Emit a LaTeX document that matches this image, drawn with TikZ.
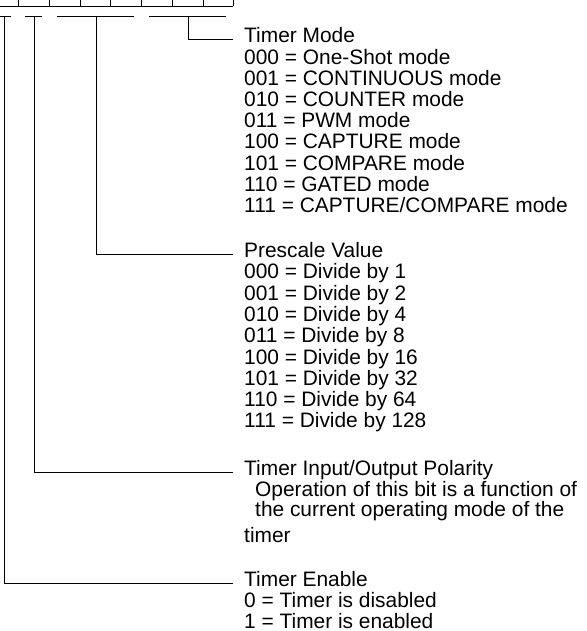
\documentclass[tikz,border=0pt]{standalone}
\usepackage{fontspec}
\setmainfont{Liberation Sans}
\usetikzlibrary{calc}
\begin{document}
\begin{tikzpicture}[x=1pt,y=-1pt,
  conn/.style={line width=0.8pt,line cap=rect},
  lbl/.style={anchor=base west,inner sep=0pt,font=\fontsize{20.9}{21}\selectfont}]
\useasboundingbox (0,0) rectangle (586,631);
% register cells (bottom part visible)
\draw[conn] (-2,6) -- (233,6);
\foreach \x in {18,49,80,110,141,172,203,233} \draw[conn] (\x,-2) -- (\x,6);
% field underlines
\draw[conn] (-2,16) -- (11,16);
\draw[conn] (25,16) -- (42,16);
\draw[conn] (57,16) -- (134,16);
\draw[conn] (149,16) -- (226,16);
\coordinate (f7) at (4,16);
\coordinate (f6) at (34,16);
\coordinate (f53) at (96,16);
\coordinate (f20) at (188,16);
% Timer Mode
\node[lbl] (tm) at (244,43) {Timer Mode};
\foreach \t [count=\i] in {{000 = One-Shot mode},{001 = CONTINUOUS mode},{010 = COUNTER mode},{011 = PWM mode},{100 = CAPTURE mode},{101 = COMPARE mode},{110 = GATED mode},{111 = CAPTURE/COMPARE mode}}
  \node[lbl] (tm\i) at (244,43+21.2*\i) {\t};
% Prescale
\node[lbl] (ps) at (244,257.5) {Prescale Value};
\foreach \t [count=\i] in {{000 = Divide by 1},{001 = Divide by 2},{010 = Divide by 4},{011 = Divide by 8},{100 = Divide by 16},{101 = Divide by 32},{110 = Divide by 64},{111 = Divide by 128}}
  \node[lbl] (ps\i) at (244,257.5+21.3*\i) {\t};
% Polarity
\node[lbl] (io) at (244,475) {Timer Input/Output Polarity};
\node[lbl] (io1) at (255,496) {Operation of this bit is a function of};
\node[lbl] (io2) at (255,516.5) {the current operating mode of the};
\node[lbl] (io3) at (244,542) {timer};
% Enable
\node[lbl] (en) at (244,586.5) {Timer Enable};
\node[lbl] (en1) at (244,607.5) {0 = Timer is disabled};
\node[lbl] (en2) at (244,628) {1 = Timer is enabled};
% connectors
\coordinate (tmc) at ($(tm.base west)+(-11,-4)$);
\coordinate (psc) at ($(ps.base west)+(-11,-3.5)$);
\coordinate (ioc) at ($(io.base west)+(-11,-3)$);
\coordinate (enc) at ($(en.base west)+(-11,-3.5)$);
\draw[conn] (f20) |- (tmc);
\draw[conn] (f53) |- (psc);
\draw[conn] (f6) |- (ioc);
\draw[conn] (f7) |- (enc);
\end{tikzpicture}
\end{document}
